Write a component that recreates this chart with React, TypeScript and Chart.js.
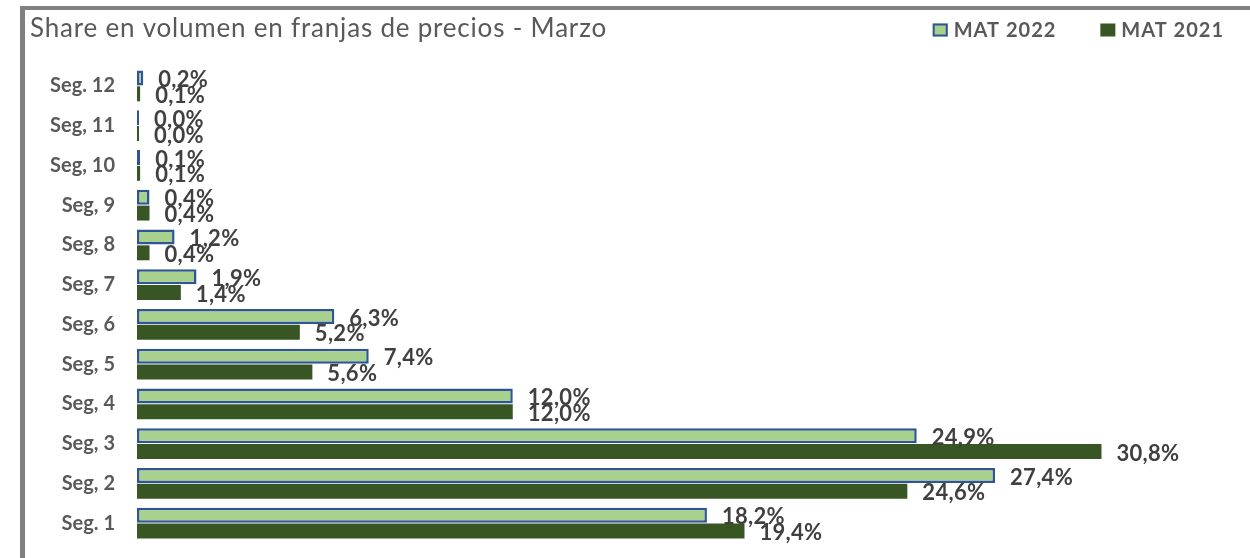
import React, { useEffect, useRef } from "react";
import { Chart, registerables } from "chart.js";

Chart.register(...registerables);

const TITLE = "Share en volumen en franjas de precios - Marzo";
const categories = [
  "Seg. 12",
  "Seg, 11",
  "Seg, 10",
  "Seg, 9",
  "Seg, 8",
  "Seg, 7",
  "Seg, 6",
  "Seg, 5",
  "Seg, 4",
  "Seg, 3",
  "Seg, 2",
  "Seg. 1",
];
const mat2022 = [0.2, 0.0, 0.1, 0.4, 1.2, 1.9, 6.3, 7.4, 12.0, 24.9, 27.4, 18.2];
const mat2021 = [0.1, 0.0, 0.1, 0.4, 0.4, 1.4, 5.2, 5.6, 12.0, 30.8, 24.6, 19.4];
const seriesNames = ["MAT 2022", "MAT 2021"];

const LIGHT = "#A9D18E";
const BLUE = "#2F5597";
const DARK = "#375623";
const GRAY_TEXT = "#595959";
const LABEL_TEXT = "#404040";
const FONT = "Lato, 'Open Sans', sans-serif";

const fmt = (v: number) => v.toFixed(1).replace(".", ",") + "%";

const framePlugin = {
  id: "frame",
  beforeDraw(chart: any) {
    const ctx = chart.ctx;
    ctx.save();
    ctx.fillStyle = "#ffffff";
    ctx.fillRect(0, 0, chart.width, chart.height);
    ctx.fillStyle = "#808080";
    ctx.fillRect(20, 6, 5, chart.height);
    ctx.fillRect(20, 6, chart.width, 4);
    ctx.restore();
  },
};

const headerPlugin = {
  id: "header",
  afterDraw(chart: any) {
    const ctx = chart.ctx;
    ctx.save();
    // title
    ctx.font = `26px ${FONT}`;
    (ctx as any).letterSpacing = "0.8px";
    ctx.fillStyle = GRAY_TEXT;
    ctx.textAlign = "left";
    ctx.textBaseline = "middle";
    ctx.fillText(TITLE, 30, 29);
    // legend
    ctx.font = `bold 20px ${FONT}`;
    (ctx as any).letterSpacing = "1px";
    const boxW = 15;
    const boxH = 13;
    const gapBoxText = 6;
    const gapItems = 44;
    const cy = 30;
    const datasets = chart.data.datasets;
    const widths = datasets.map((d: any) => boxW + gapBoxText + ctx.measureText(d.label).width);
    const total = widths.reduce((a: number, b: number) => a + b, 0) + gapItems * (datasets.length - 1);
    let x = 1224 - total;
    datasets.forEach((d: any, i: number) => {
      ctx.fillStyle = d.backgroundColor;
      ctx.fillRect(x, cy - boxH / 2, boxW, boxH);
      if (d.borderWidth) {
        ctx.strokeStyle = d.borderColor;
        ctx.lineWidth = 2;
        ctx.strokeRect(x + 1, cy - boxH / 2 + 1, boxW - 2, boxH - 2);
      }
      ctx.fillStyle = GRAY_TEXT;
      ctx.fillText(d.label, x + boxW + gapBoxText, cy + 1);
      x += widths[i] + gapItems;
    });
    ctx.restore();
  },
};

const valueLabelPlugin = {
  id: "valueLabels",
  afterDatasetsDraw(chart: any) {
    const ctx = chart.ctx;
    ctx.save();
    ctx.font = `bold 22px ${FONT}`;
    (ctx as any).letterSpacing = "0.3px";
    ctx.fillStyle = LABEL_TEXT;
    ctx.textAlign = "left";
    ctx.textBaseline = "middle";
    chart.data.datasets.forEach((ds: any, di: number) => {
      const meta = chart.getDatasetMeta(di);
      meta.data.forEach((bar: any, i: number) => {
        ctx.fillText(fmt(ds.data[i]), bar.x + 15, bar.y + 2);
      });
    });
    ctx.restore();
  },
};

export default function App() {
  const ref = useRef<HTMLCanvasElement | null>(null);

  useEffect(() => {
    if (!ref.current) return;
    const chart = new Chart(ref.current, {
      type: "bar",
      data: {
        labels: categories,
        datasets: [
          {
            label: seriesNames[0],
            data: mat2022,
            backgroundColor: LIGHT,
            borderColor: BLUE,
            borderWidth: 2.5,
            borderSkipped: false,
            minBarLength: 2,
          },
          {
            label: seriesNames[1],
            data: mat2021,
            backgroundColor: DARK,
            borderWidth: 0,
            minBarLength: 2,
          },
        ],
      },
      options: {
        indexAxis: "y",
        responsive: false,
        animation: false,
        devicePixelRatio: 1,
        layout: { padding: { top: 66, bottom: 15, left: 0, right: 17 } },
        datasets: {
          bar: { categoryPercentage: 0.8, barPercentage: 0.94 },
        },
        plugins: {
          legend: { display: false },
          title: { display: false },
          tooltip: { enabled: false },
        },
        scales: {
          x: {
            display: false,
            min: 0,
            max: 35,
          },
          y: {
            grid: { display: false, drawTicks: false },
            border: { display: false },
            ticks: {
              color: GRAY_TEXT,
              font: { family: FONT, size: 20, weight: "bold" },
              padding: 22,
            },
            afterFit(scale: any) {
              scale.width = 137;
              scale.paddingTop = 0;
              scale.paddingBottom = 0;
            },
          },
        },
      } as any,
      plugins: [framePlugin, headerPlugin, valueLabelPlugin],
    });
    return () => chart.destroy();
  }, []);

  return (
    <div style={{ position: "fixed", left: 0, top: 0, width: 1250, height: 558, background: "#fff" }}>
      <canvas ref={ref} width={1250} height={558} />
    </div>
  );
}
